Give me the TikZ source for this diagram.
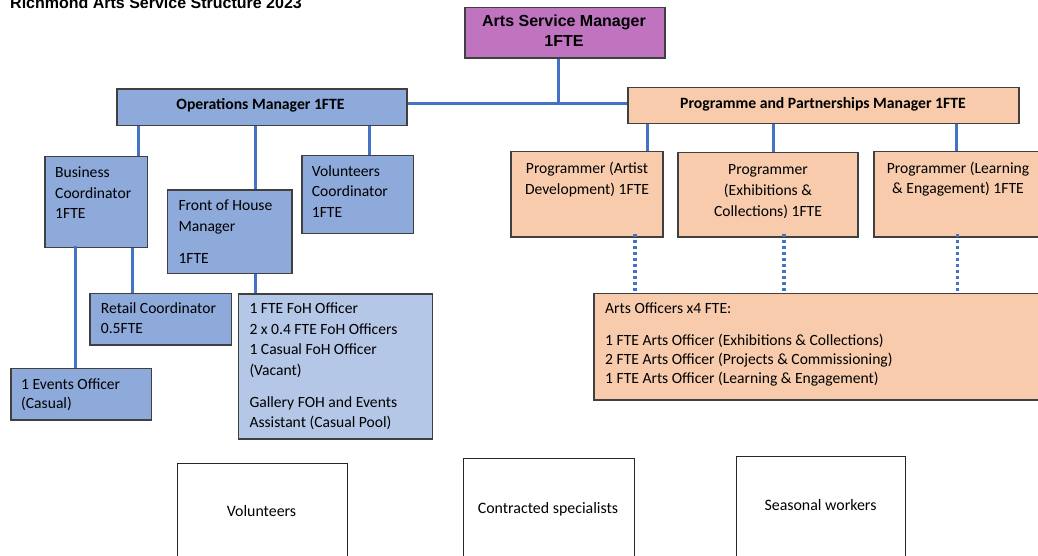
\documentclass[tikz,border=0pt]{standalone}
\usepackage{fontspec}
\setmainfont{Carlito}
\newfontfamily\arialf{Liberation Sans}
\definecolor{purp}{RGB}{192,116,191}
\definecolor{opsblue}{RGB}{142,170,219}
\definecolor{lightblue}{RGB}{180,199,231}
\definecolor{peach}{RGB}{247,203,172}
\definecolor{linkblue}{RGB}{68,114,196}
\definecolor{bord}{RGB}{64,64,64}
\newcommand\fl{\rule{0pt}{14pt}}
\newcommand\fs[1]{\fontsize{15.6}{#1}\selectfont}
\begin{document}
\begin{tikzpicture}[x=1pt,y=-1pt,
  box/.style={draw=bord, line width=1.5pt, inner sep=0pt, anchor=north west},
  wbox/.style={draw=black!85, line width=1.2pt, fill=white, inner sep=0pt, anchor=north west},
  txt/.style={inner sep=0pt, anchor=north west, align=left},
  ctxt/.style={inner sep=0pt, anchor=north, align=center},
  one/.style={inner sep=0pt, anchor=base, font=\fontsize{15.9}{20}\selectfont},
  link/.style={draw=linkblue, line width=3pt},
  dotlink/.style={draw=linkblue, line width=3.2pt, dash pattern=on 3pt off 3pt}]
\useasboundingbox (0,0) rectangle (1038,556);
\clip (0,0) rectangle (1038,556);

% title
\node[inner sep=0pt, anchor=base west, font=\arialf\bfseries\fontsize{16}{18}\selectfont] (title) at (10,8.5) {Richmond Arts Service Structure 2023};

% top level
\node[box, fill=purp, minimum width=200, minimum height=50.5] (asm) at (464,6.8) {};
\node[inner sep=0pt, anchor=north, align=center, font=\arialf\bfseries\fontsize{16}{20}\selectfont] (asmt) at (564,26.7-14) {\fl Arts Service Manager\\1FTE};

\node[box, fill=opsblue, minimum width=290, minimum height=36.5] (ops) at (116,88.3) {};
\node[inner sep=0pt, anchor=base, font=\bfseries\fontsize{15.7}{20}\selectfont] (opst) at (260.5,110) {Operations Manager 1FTE};

\node[box, fill=peach, minimum width=391, minimum height=36] (ppm) at (627,87) {};
\node[inner sep=0pt, anchor=base, font=\bfseries\fontsize{15.7}{20}\selectfont] (ppmt) at (823,109) {Programme and Partnerships Manager 1FTE};

% operations side
\node[box, fill=opsblue, minimum width=102.7, minimum height=91] (bc) at (44,155.7) {};
\node[txt, font=\fs{20.8}] (bct) at (55,177-14) {\fl Business\\Coordinator\\1FTE};

\node[box, fill=opsblue, minimum width=124.3, minimum height=83.4] (foh) at (166.7,189.3) {};
\node[txt, font=\fs{21}] (foht) at (178.3,210.7-14) {\fl Front of House\\Manager\\[10.6pt]1FTE};

\node[box, fill=opsblue, minimum width=111.7, minimum height=77.7] (vc) at (301,155) {};
\node[txt, font=\fs{20.6}] (vct) at (311.7,176-14) {\fl Volunteers\\Coordinator\\1FTE};

\node[box, fill=opsblue, minimum width=141.4, minimum height=51.3] (rc) at (89.3,292.7) {};
\node[txt, font=\fs{20}] (rct) at (100.7,313.3-14) {\fl Retail Coordinator\\0.5FTE};

\node[box, fill=opsblue, minimum width=140.7, minimum height=51.3] (ev) at (10,367.7) {};
\node[txt, font=\fs{19.5}] (evt) at (21,389-14) {\fl 1 Events Officer\\(Casual)};

\node[box, fill=lightblue, minimum width=194, minimum height=145] (fst) at (237.7,293.3) {};
\node[txt, font=\fs{20.7}] (fstt) at (249.3,313.3-14) {\fl 1 FTE FoH Officer\\2 x 0.4 FTE FoH Officers\\1 Casual FoH Officer\\(Vacant)\\[10.7pt]Gallery FOH and Events\\Assistant (Casual Pool)};

% programme side
\node[box, fill=peach, minimum width=152, minimum height=85] (pa) at (510,151) {};
\node[ctxt, font=\fs{20.5}] (pat) at (587,173.5-14) {\fl Programmer (Artist\\Development) 1FTE};

\node[box, fill=peach, minimum width=180.3, minimum height=84] (pe) at (677,152) {};
\node[ctxt, font=\fs{21}] (pet) at (768,174.5-14) {\fl Programmer\\(Exhibitions \&\\Collections) 1FTE};

\node[box, fill=peach, minimum width=190, minimum height=85] (pl) at (873.3,151) {};
\node[ctxt, font=\fs{20}] (plt) at (958,173-14) {\fl Programmer (Learning\\\& Engagement) 1FTE};

\node[box, fill=peach, minimum width=460, minimum height=106.6] (ao) at (593.3,292.7) {};
\node[txt, font=\fs{19}] (aot) at (605,313.3-14) {\fl Arts Officers x4 FTE:\\[12.7pt]1 FTE Arts Officer (Exhibitions \& Collections)\\2 FTE Arts Officer (Projects \& Commissioning)\\1 FTE Arts Officer (Learning \& Engagement)};

% bottom boxes
\node[wbox, minimum width=170.3, minimum height=110] (vol) at (176.7,463) {};
\node[one] (volt) at (261.5,516.7) {Volunteers};
\node[wbox, minimum width=171, minimum height=110] (cs) at (463,458) {};
\node[one] (cst) at (548,513) {Contracted specialists};
\node[wbox, minimum width=169.3, minimum height=110] (sw) at (735.7,455.7) {};
\node[one] (swt) at (820.5,510) {Seasonal workers};

% connectors
\coordinate (j) at (558.3,104);
\draw[link] (asm.south -| j) -- (j);
\draw[link] (ops.east |- j) -- (ppm.west |- j);

\draw[link] ([xshift=22.3pt]ops.south west) -- ([xshift=94.3pt]bc.north west);
\draw[link] ([xshift=139.7pt]ops.south west) -- ([xshift=89pt]foh.north west);
\draw[link] ([xshift=253pt]ops.south west) -- ([xshift=68pt]vc.north west);
\draw[link] ([xshift=88.3pt]bc.south west) -- ([xshift=43pt]rc.north west);
\draw[link] ([shift={(31pt,2.6pt)}]bc.south west) -- ([xshift=65pt]ev.north west);
\draw[link] ([xshift=88.3pt]foh.south west) -- ([xshift=17.3pt]fst.north west);

\draw[link] ([xshift=20pt]ppm.south west) -- ([xshift=137pt]pa.north west);
\draw[link] ([xshift=146pt]ppm.south west) -- ([xshift=96pt]pe.north west);
\draw[link] ([xshift=329pt]ppm.south west) -- ([xshift=82.7pt]pl.north west);

\draw[dotlink] ([shift={(125pt,4pt)}]pa.south west) -- ([xshift=41.7pt]ao.north west);
\draw[dotlink] ([shift={(107pt,4pt)}]pe.south west) -- ([xshift=190.7pt]ao.north west);
\draw[dotlink] ([shift={(84pt,4pt)}]pl.south west) -- ([xshift=364pt]ao.north west);
\end{tikzpicture}
\end{document}
